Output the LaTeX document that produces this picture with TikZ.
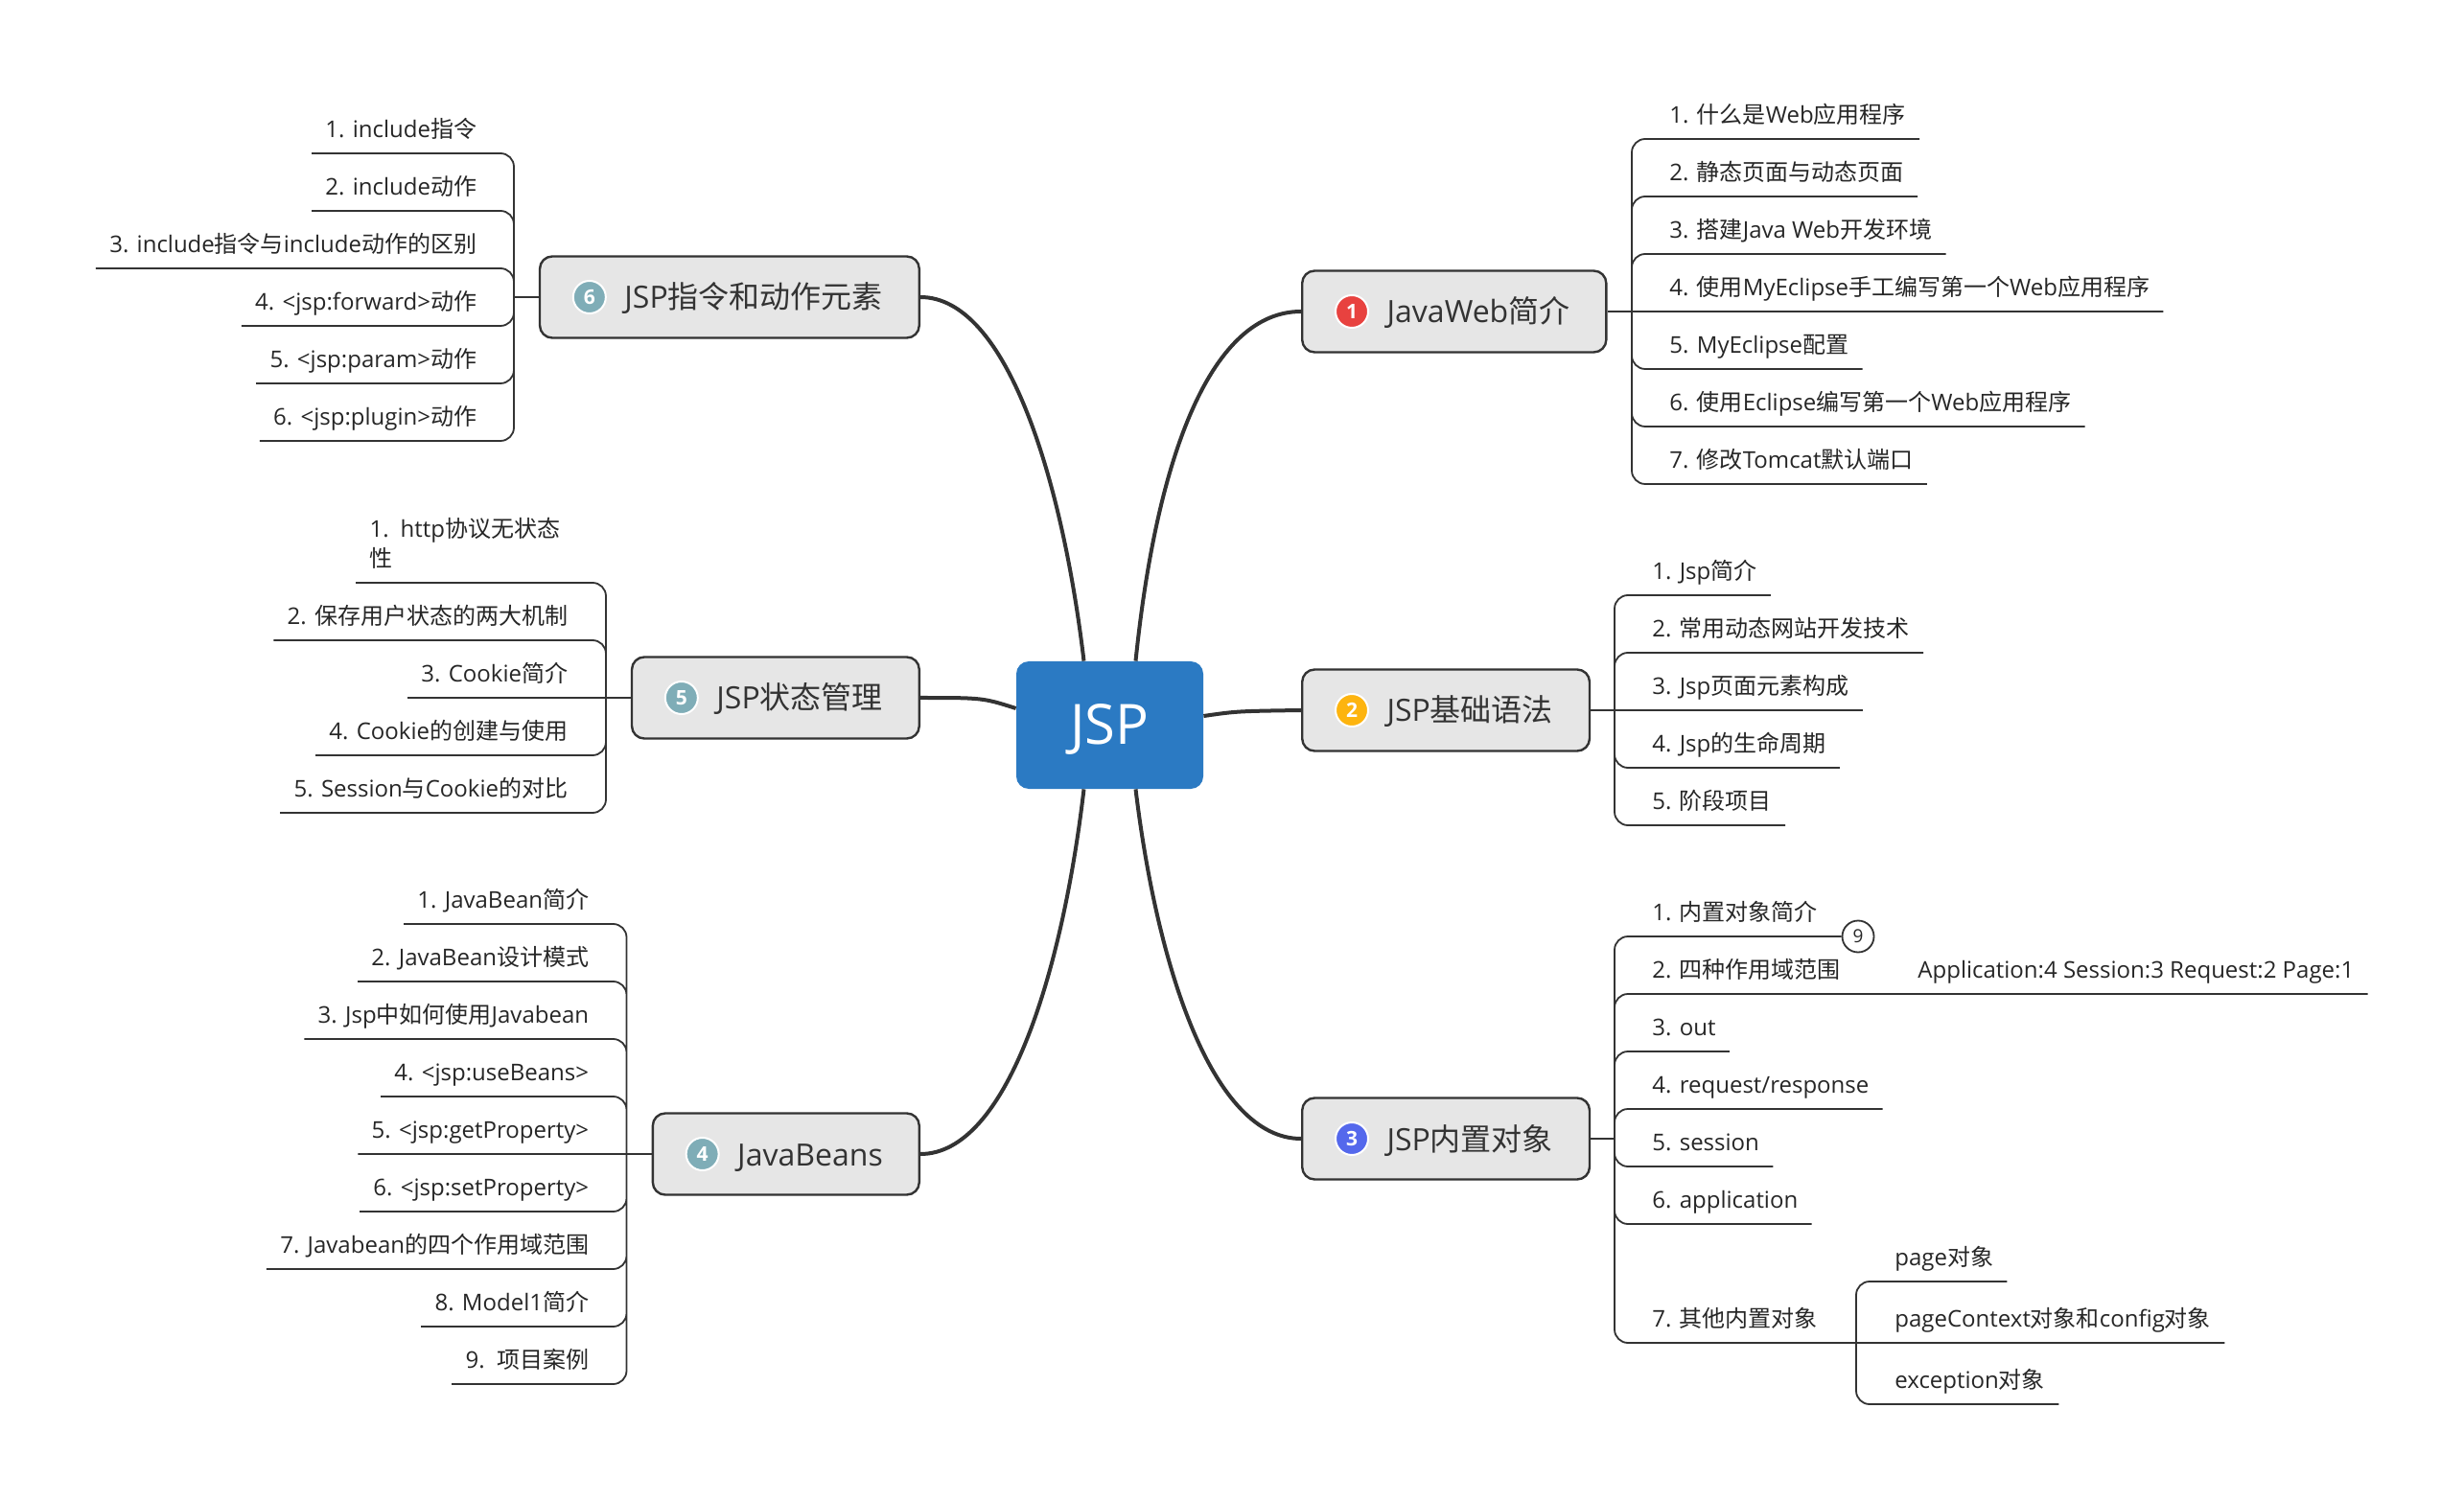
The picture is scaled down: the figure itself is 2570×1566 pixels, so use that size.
\documentclass[tikz,border=0pt]{standalone}
\usepackage{fontspec}
\setmainfont{Open Sans}
\newfontfamily\cjk{Noto Sans CJK SC}
\newcommand{\zh}[1]{{\cjk #1}}
\usetikzlibrary{positioning}
\definecolor{rootbg}{HTML}{2B7AC3}
\definecolor{topicbg}{HTML}{E6E6E6}
\definecolor{inkgray}{HTML}{333333}
\definecolor{itemink}{HTML}{262626}
\definecolor{icred}{HTML}{E8423F}
\definecolor{icamber}{HTML}{FDB40F}
\definecolor{icblue}{HTML}{5468EC}
\definecolor{icteal}{HTML}{7FADB7}
\tikzset{
  root/.style={rectangle, rounded corners=6.5pt, fill=rootbg, text=white,
    minimum width=97.5pt, minimum height=66.5pt, inner sep=0pt,
    text height=22pt, text depth=2pt, font=\fontsize{29}{34}\selectfont},
  topic/.style={rectangle, rounded corners=6.5pt, draw=inkgray, line width=1.2pt,
    fill=topicbg, text=inkgray, minimum height=42.5pt, inner xsep=19pt, inner ysep=0pt,
    text height=14pt, text depth=2pt, font=\fontsize{16}{20}\selectfont},
  icon/.style={circle, fill=#1, draw=white, line width=1pt, text=white, inner sep=0pt,
    minimum size=17pt, font=\fontsize{10.5}{12}\selectfont\bfseries},
  rit/.style={rectangle, anchor=south west, inner xsep=7pt, inner ysep=0pt, text=itemink,
    text height=9pt, text depth=8pt, font=\fontsize{12}{15.5}\selectfont},
  lit/.style={rit, anchor=south east},
  cnt/.style={circle, draw=inkgray, line width=0.9pt, fill=white, text=itemink, inner sep=0pt,
    minimum size=16.5pt, font=\fontsize{9.5}{11}\selectfont},
  limb/.style={inkgray, line width=2pt},
  twig/.style={inkgray, line width=0.9pt, rounded corners=7pt},
}
\begin{document}
\begin{tikzpicture}[x=0.5pt, y=-0.5pt]
\useasboundingbox (0,0) rectangle (2570,1566);

% ---- centre ----
\node[root] (root) at (1157.5,756.5) {JSP};

% ---- JavaWeb ----
\node[topic, anchor=west] (t1) at (1357,325) {\hspace{25.2pt}JavaWeb\zh{简介}};
\node[icon=icred] (i1) at ([xshift=26.5pt]t1.west) {1};
\coordinate (h1) at (1702,325);
\node[rit] (w11) at (1727,145) {1. \zh{什么是}Web\zh{应用程序}};
\node[rit] (w12) at ([yshift=-30pt]w11.south west) {2. \zh{静态页面与动态页面}};
\node[rit] (w13) at ([yshift=-30pt]w12.south west) {3. \zh{搭建}Java Web\zh{开发环境}};
\node[rit] (w14) at ([yshift=-30pt]w13.south west) {4. \zh{使用}MyEclipse\zh{手工编写第一个}Web\zh{应用程序}};
\node[rit] (w15) at ([yshift=-30pt]w14.south west) {5. MyEclipse\zh{配置}};
\node[rit] (w16) at ([yshift=-30pt]w15.south west) {6. \zh{使用}Eclipse\zh{编写第一个}Web\zh{应用程序}};
\node[rit] (w17) at ([yshift=-30pt]w16.south west) {7. \zh{修改}Tomcat\zh{默认端口}};

% ---- JSP syntax ----
\node[topic, anchor=west] (t2) at (1357,741) {\hspace{25.2pt}JSP\zh{基础语法}};
\node[icon=icamber] (i2) at ([xshift=26.5pt]t2.west) {2};
\coordinate (h2) at (1684,741);
\node[rit] (w21) at (1709,621) {1. Jsp\zh{简介}};
\node[rit] (w22) at ([yshift=-30pt]w21.south west) {2. \zh{常用动态网站开发技术}};
\node[rit] (w23) at ([yshift=-30pt]w22.south west) {3. Jsp\zh{页面元素构成}};
\node[rit] (w24) at ([yshift=-30pt]w23.south west) {4. Jsp\zh{的生命周期}};
\node[rit] (w25) at ([yshift=-30pt]w24.south west) {5. \zh{阶段项目}};

% ---- built-in objects ----
\node[topic, anchor=west] (t3) at (1357,1188) {\hspace{25.2pt}JSP\zh{内置对象}};
\node[icon=icblue] (i3) at ([xshift=26.5pt]t3.west) {3};
\coordinate (h3) at (1684,1188);
\node[rit] (w31) at (1709,977) {1. \zh{内置对象简介}};
\node[cnt] (c31) at (1938,977) {9};
\node[rit] (w32) at ([yshift=-30pt]w31.south west) {2. \zh{四种作用域范围}};
\node[rit] (n32) at (1986,1037) {Application:4 Session:3 Request:2 Page:1};
\node[rit] (w33) at ([yshift=-30pt]w32.south west) {3. out};
\node[rit] (w34) at ([yshift=-30pt]w33.south west) {4. request/response};
\node[rit] (w35) at ([yshift=-30pt]w34.south west) {5. session};
\node[rit] (w36) at ([yshift=-30pt]w35.south west) {6. application};
\node[rit] (w37) at (1709,1401) {7. \zh{其他内置对象}};
\coordinate (h37) at (1936,1401);
\node[rit] (x1) at (1962,1337) {page\zh{对象}};
\node[rit] (x2) at ([yshift=-32pt]x1.south west) {pageContext\zh{对象和}config\zh{对象}};
\node[rit] (x3) at ([yshift=-32pt]x2.south west) {exception\zh{对象}};

% ---- JavaBeans ----
\node[topic, anchor=east] (t4) at (960,1204) {\hspace{25.2pt}JavaBeans};
\node[icon=icteal] (i4) at ([xshift=26.5pt]t4.west) {4};
\coordinate (h4) at (653.5,1204);
\node[lit] (w41) at (628.5,964) {1. JavaBean\zh{简介}};
\node[lit] (w42) at ([yshift=-30pt]w41.south east) {2. JavaBean\zh{设计模式}};
\node[lit] (w43) at ([yshift=-30pt]w42.south east) {3. Jsp\zh{中如何使用}Javabean};
\node[lit] (w44) at ([yshift=-30pt]w43.south east) {4. <jsp:useBeans>};
\node[lit] (w45) at ([yshift=-30pt]w44.south east) {5. <jsp:getProperty>};
\node[lit] (w46) at ([yshift=-30pt]w45.south east) {6. <jsp:setProperty>};
\node[lit] (w47) at ([yshift=-30pt]w46.south east) {7. Javabean\zh{的四个作用域范围}};
\node[lit] (w48) at ([yshift=-30pt]w47.south east) {8. Model1\zh{简介}};
\node[lit] (w49) at ([yshift=-30pt]w48.south east) {9.\ \ \zh{项目案例}};

% ---- state ----
\node[topic, anchor=east] (t5) at (960,728) {\hspace{25.2pt}JSP\zh{状态管理}};
\node[icon=icteal] (i5) at ([xshift=26.5pt]t5.west) {5};
\coordinate (h5) at (632,728);
\node[lit, text width=101.5pt, align=left, text depth=23.5pt] (w51) at (603,608) {1. http\zh{协议无状态}\\\zh{性}};
\node[lit] (w52) at (606.5,668) {2. \zh{保存用户状态的两大机制}};
\node[lit] (w53) at ([yshift=-30pt]w52.south east) {3. Cookie\zh{简介}};
\node[lit] (w54) at ([yshift=-30pt]w53.south east) {4. Cookie\zh{的创建与使用}};
\node[lit] (w55) at ([yshift=-30pt]w54.south east) {5. Session\zh{与}Cookie\zh{的对比}};

% ---- directives ----
\node[topic, anchor=east] (t6) at (960,310) {\hspace{25.2pt}JSP\zh{指令和动作元素}};
\node[icon=icteal] (i6) at ([xshift=26.5pt]t6.west) {6};
\coordinate (h6) at (536,310);
\node[lit] (w61) at (511.5,160) {1. include\zh{指令}};
\node[lit] (w62) at ([yshift=-30pt]w61.south east) {2. include\zh{动作}};
\node[lit] (w63) at ([yshift=-30pt]w62.south east) {3. include\zh{指令与}include\zh{动作的区别}};
\node[lit] (w64) at ([yshift=-30pt]w63.south east) {4. <jsp:forward>\zh{动作}};
\node[lit] (w65) at ([yshift=-30pt]w64.south east) {5. <jsp:param>\zh{动作}};
\node[lit] (w66) at ([yshift=-30pt]w65.south east) {6. <jsp:plugin>\zh{动作}};

% ---- limbs ----
\draw[limb] ([xshift=13.5pt]root.north) .. controls (1207,470) and (1265,325) .. (t1.west);
\draw[limb] (root.east |- t2.west) ++(0,6) .. controls (1290,742) .. (t2.west);
\draw[limb] ([xshift=13.5pt]root.south) .. controls (1207,1010) and (1265,1188) .. (t3.west);
\draw[limb] ([xshift=-13.5pt]root.south) .. controls (1108,1015) and (1050,1204) .. (t4.east);
\draw[limb] (root.west |- 0,739) .. controls (1025,728) .. (t5.east);
\draw[limb] ([xshift=-13.5pt]root.north) .. controls (1108,500) and (1050,310) .. (t6.east);

% ---- twigs ----
\draw[twig] (t1.east) -- (h1);
\draw[twig] (h1) |- (w11.south east) (h1) |- (w12.south east) (h1) |- (w13.south east)
  (h1) -- (w14.south east) (h1) |- (w15.south east) (h1) |- (w16.south east) (h1) |- (w17.south east);
\draw[twig] (t2.east) -- (h2);
\draw[twig] (h2) |- (w21.south east) (h2) |- (w22.south east) (h2) -- (w23.south east)
  (h2) |- (w24.south east) (h2) |- (w25.south east);
\draw[twig] (t3.east) -- (h3);
\draw[twig] (h3) |- (c31.west) (h3) |- (n32.south east) (h3) |- (w33.south east) (h3) |- (w34.south east)
  (h3) |- (w35.south east) (h3) |- (w36.south east) (h3) |- (h37);
\draw[twig] (h37) |- (x1.south east) (h37) -- (x2.south east) (h37) |- (x3.south east);
\draw[twig] (t4.west) -- (h4);
\draw[twig] (h4) |- (w41.south west) (h4) |- (w42.south west) (h4) |- (w43.south west) (h4) |- (w44.south west)
  (h4) -- (w45.south west) (h4) |- (w46.south west) (h4) |- (w47.south west) (h4) |- (w48.south west) (h4) |- (w49.south west);
\draw[twig] (t5.west) -- (h5);
\draw[twig] (h5) |- (w51.south west) (h5) |- (w52.south west) (h5) -- (w53.south west)
  (h5) |- (w54.south west) (h5) |- (w55.south west);
\draw[twig] (t6.west) -- (h6);
\draw[twig] (h6) |- (w61.south west) (h6) |- (w62.south west) (h6) |- (w63.south west)
  (h6) |- (w64.south west) (h6) |- (w65.south west) (h6) |- (w66.south west);

\end{tikzpicture}
\end{document}
